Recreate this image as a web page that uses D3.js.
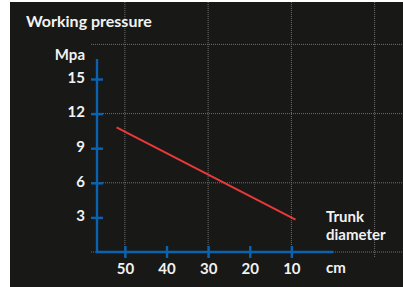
<!DOCTYPE html>
<html>
<head>
<meta charset="utf-8">
<script src="https://cdn.jsdelivr.net/npm/d3@7"></script>
<style>
  html, body { margin: 0; padding: 0; background: #ffffff; }
  svg { display: block; }
  text { font-family: Lato, "Open Sans", sans-serif; font-weight: bold; fill: #f2f2f2; }
</style>
</head>
<body>
<svg id="chart" width="403" height="287"></svg>
<script>
// chart data
const xTicks = [50, 40, 30, 20, 10];
const yTicks = [3, 6, 9, 12, 15];
const xGrid = [50, 30, 10, -10];
const yGrid = [0, 6, 12, 18];
const diameter = [52, 9];
const pressure = [10.8, 2.8];

const svg = d3.select("#chart");

svg.append("rect")
  .attr("x", 10).attr("y", 2)
  .attr("width", 393).attr("height", 285)
  .attr("fill", "#181817");

// scales (x is reversed: big trunks on the left)
const x = d3.scaleLinear().domain([56.7, 0]).range([97, 333]);
const y = d3.scaleLinear().domain([0, 15]).range([252, 79]);

// dotted grid
svg.append("g").selectAll("line")
  .data(yGrid)
  .enter().append("line")
  .attr("x1", 91).attr("x2", 403)
  .attr("y1", d => y(d)).attr("y2", d => y(d))
  .attr("stroke", "#6e6e6e").attr("stroke-width", 1)
  .attr("stroke-dasharray", "1,1");

svg.append("g").selectAll("line")
  .data(xGrid)
  .enter().append("line")
  .attr("x1", d => x(d)).attr("x2", d => x(d))
  .attr("y1", 2).attr("y2", 257)
  .attr("stroke", "#6e6e6e").attr("stroke-width", 1)
  .attr("stroke-dasharray", "1,1");

// Y axis
const yAxis = svg.append("g")
  .attr("transform", "translate(97,0)")
  .call(d3.axisLeft(y).tickValues(yTicks).tickSize(6).tickSizeOuter(0));
yAxis.select(".domain").remove();
yAxis.append("line")
  .attr("x1", 0).attr("x2", 0).attr("y1", 59).attr("y2", 253)
  .attr("stroke", "#0a63b0").attr("stroke-width", 2.4);
yAxis.selectAll(".tick line")
  .attr("x1", -6).attr("x2", 6)
  .attr("stroke", "#0a63b0").attr("stroke-width", 2.4);
yAxis.selectAll(".tick text")
  .attr("x", -12).attr("dy", "0.22em")
  .style("font-size", "15px").style("font-family", "Lato, sans-serif")
  .attr("fill", "#f2f2f2");

// X axis
const xAxis = svg.append("g")
  .attr("transform", "translate(0,252)")
  .call(d3.axisBottom(x).tickValues(xTicks).tickSize(6).tickSizeOuter(0));
xAxis.select(".domain").remove();
xAxis.append("line")
  .attr("x1", 96).attr("x2", 333).attr("y1", 0).attr("y2", 0)
  .attr("stroke", "#0a63b0").attr("stroke-width", 2.4);
xAxis.selectAll(".tick line")
  .attr("y1", -6).attr("y2", 6)
  .attr("stroke", "#0a63b0").attr("stroke-width", 2.4);
xAxis.selectAll(".tick text")
  .attr("y", 22).attr("dy", 0)
  .style("font-size", "15px").style("font-family", "Lato, sans-serif")
  .attr("fill", "#f2f2f2");

// red line
const line = d3.line()
  .x(d => x(d[0]))
  .y(d => y(d[1]));
svg.append("path")
  .datum(d3.zip(diameter, pressure))
  .attr("d", line)
  .attr("fill", "none")
  .attr("stroke", "#e8393a")
  .attr("stroke-width", 2);

// titles
svg.append("text").attr("x", 26).attr("y", 27)
  .style("font-size", "16px").text("Working pressure");
svg.append("text").attr("x", 85).attr("y", 60)
  .attr("text-anchor", "end")
  .style("font-size", "15px").text("Mpa");
svg.append("text").attr("x", 326).attr("y", 273)
  .style("font-size", "15px").text("cm");
svg.append("text").attr("x", 326).attr("y", 222)
  .style("font-size", "15px").text("Trunk");
svg.append("text").attr("x", 326).attr("y", 240)
  .style("font-size", "15px").text("diameter");
</script>
</body>
</html>
